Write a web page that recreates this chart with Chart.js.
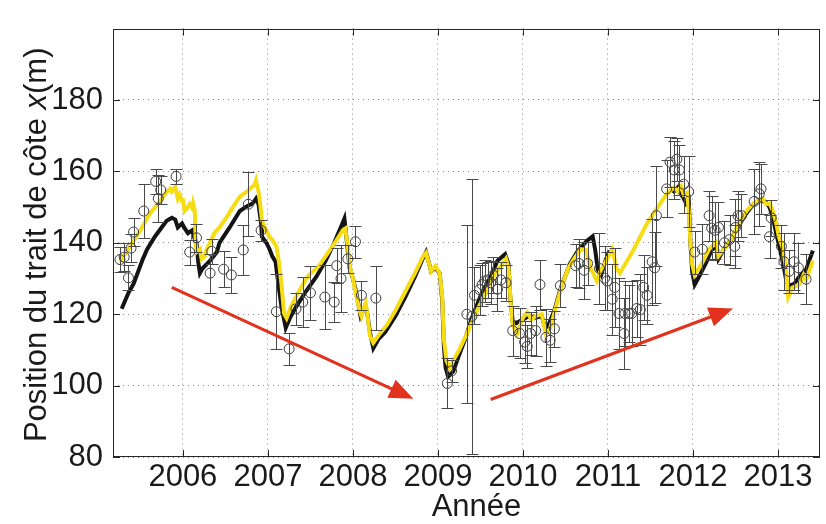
<!DOCTYPE html>
<html>
<head>
<meta charset="utf-8">
<script src="https://cdn.jsdelivr.net/npm/chart.js@4.4.1/dist/chart.umd.min.js"></script>
<style>
html,body{margin:0;padding:0;background:#fff}
canvas{display:block}
</style>
</head>
<body>
<canvas id="shoreChart" width="826" height="524"></canvas>
<script>
// ===== DATA =====
let yearTicks=[2006,2007,2008,2009,2010,2011,2012,2013]
let posTicks=[80,100,120,140,160,180]

// black model line (null = no data)
let blackYears=[2005.28,2005.36,2005.42,2005.53,2005.58,2005.67,2005.75,2005.81,2005.87,2005.91,2005.94,2005.99,2006.02,2006.06,2006.11,2006.13,2006.16,2006.18,2006.20,2006.23,2006.32,2006.40,2006.43,2006.55,2006.67,2006.75,2006.82,2006.86,2006.89,2006.92,2006.93,2006.98,2007.02,2007.05,2007.09,2007.12,2007.16,2007.21,2007.26,2007.33,2007.45,2007.57,2007.68,2007.78,2007.86,2007.90,2007.93,2007.96,2008.00,2008.04,2008.09,2008.12,2008.15,2008.17,2008.20,2008.24,2008.30,2008.38,2008.50,2008.62,2008.73,2008.82,2008.86,2008.92,2008.97,2009.02,2009.05,2009.07,2009.09,2009.12,2009.18,2009.24,2009.32,2009.40,2009.50,2009.62,2009.70,2009.79,2009.83,2009.85,2009.88,2009.92,2010.00,2010.07,2010.15,2010.22,2010.27,2010.30,2010.37,2010.44,2010.55,2010.64,2010.75,2010.82,2010.85,2010.88,2010.92,2010.97,2011.02,2011.40,2011.76,2011.82,2011.86,2011.89,2011.92,2011.95,2011.97,2011.99,2012.02,2012.08,2012.16,2012.22,2012.28,2012.30,2012.37,2012.45,2012.53,2012.62,2012.70,2012.78,2012.85,2012.90,2012.94,2012.98,2013.03,2013.07,2013.10,2013.14,2013.19,2013.25,2013.33,2013.41]
let blackPos=[121.5,126,128.5,135.5,138.2,141.7,144.3,146.2,147,146.5,144.3,145.4,144.1,142.7,143.5,141.7,140.1,134.7,131.5,132.8,135,137.4,140,144.3,148.9,150.2,151,152.4,150.8,145.4,141.7,140.1,138.2,136.3,134.7,129,122,116.2,119,122,126.5,130.5,135,140,144.5,146.8,140,133,130,126,119.5,121,122,120,115,110.5,113,115,119.5,125,130.5,135.5,137.4,132,133,131.5,124,111,105,102.5,104,108,113,119,125,130.5,135,136.8,134,125,118,117.5,118.5,119.5,119,119.5,115.5,117,121,127,134,137.5,140.5,141.8,138,132.5,131,135,137.8,null,154,155.5,153.5,152.5,151,152,140,132,128.3,130.9,134.7,138,139,135.5,138.5,141,144.5,148,150.5,152,151.5,150,147,142.5,137.5,133,129,128,128.5,130.5,132.5,137.8]

// yellow model line
let yellowYears=[2005.26,2005.38,2005.50,2005.61,2005.73,2005.81,2005.85,2005.87,2005.91,2005.94,2005.96,2005.99,2006.00,2006.02,2006.05,2006.08,2006.11,2006.12,2006.14,2006.15,2006.16,2006.20,2006.22,2006.26,2006.28,2006.32,2006.37,2006.43,2006.51,2006.58,2006.67,2006.75,2006.81,2006.84,2006.86,2006.89,2006.91,2006.93,2006.98,2007.02,2007.05,2007.10,2007.13,2007.16,2007.19,2007.22,2007.27,2007.33,2007.39,2007.48,2007.60,2007.70,2007.80,2007.88,2007.91,2007.94,2007.96,2008.00,2008.04,2008.08,2008.10,2008.13,2008.15,2008.17,2008.20,2008.24,2008.30,2008.40,2008.50,2008.62,2008.73,2008.82,2008.86,2008.92,2008.97,2009.02,2009.05,2009.07,2009.10,2009.14,2009.18,2009.25,2009.34,2009.45,2009.55,2009.65,2009.74,2009.80,2009.83,2009.86,2009.88,2009.93,2010.00,2010.05,2010.10,2010.15,2010.22,2010.27,2010.32,2010.44,2010.53,2010.60,2010.68,2010.74,2010.80,2010.87,2010.91,2010.99,2011.05,2011.10,2011.14,2011.30,2011.45,2011.60,2011.70,2011.78,2011.82,2011.86,2011.89,2011.93,2011.95,2011.97,2011.99,2012.02,2012.10,2012.19,2012.27,2012.30,2012.39,2012.47,2012.54,2012.63,2012.71,2012.78,2012.82,2012.86,2012.90,2012.94,2012.98,2013.01,2013.06,2013.09,2013.12,2013.17,2013.25,2013.30,2013.33,2013.36,2013.41]
let yellowPos=[134.7,139,143.5,148.1,151.6,154.3,155.1,154.3,155.6,152.4,153.5,151.6,152.4,148.9,149.7,150.8,149.7,151,148.9,140.1,137.4,138.2,135.5,136.3,138.2,140.1,142.7,144.3,147,149.7,152.9,154.3,155.6,156.1,157.5,154.3,150.8,146.2,143.5,141.7,140.9,139,134.7,128.3,120.2,118.9,122.1,124.8,127.5,130.9,133.5,137,140.5,143.5,144,139,133.5,130,125,121,119.5,122,123,120,114,112,114,117,121,126.5,131.5,136,137.2,132,133.5,131.5,125,113,107,105,107,110,114.5,120.5,125.5,130.5,133.5,135.5,133,122,117,114.5,119,120.5,118.5,119.5,120,114.5,116,126.6,132.8,135.5,138.2,138,132.8,129.3,132,135.5,138.2,132.8,131.5,138,145,150.5,154,155.5,154.5,155.8,153.5,154,149,140,134,131,134,138.2,140.1,136.3,139,141.7,145.4,148.9,151,152.1,152.4,150.8,151,148.9,145.4,141.7,138.2,133.6,124.8,127.5,128.3,131,129.5,131.5,135]

// observations (circles) with error bars
let obsYears=[2005.26,2005.31,2005.36,2005.39,2005.42,2005.54,2005.68,2005.71,2005.74,2005.92,2006.08,2006.16,2006.32,2006.34,2006.48,2006.57,2006.71,2006.77,2006.92,2007.10,2007.25,2007.33,2007.41,2007.50,2007.67,2007.78,2007.81,2007.86,2007.94,2008.03,2008.10,2008.27,2009.11,2009.16,2009.34,2009.40,2009.43,2009.49,2009.52,2009.55,2009.59,2009.62,2009.65,2009.70,2009.74,2009.80,2009.88,2009.96,2010.02,2010.05,2010.09,2010.15,2010.20,2010.27,2010.32,2010.37,2010.44,2010.62,2010.66,2010.72,2010.76,2010.90,2010.96,2010.99,2011.05,2011.08,2011.13,2011.19,2011.20,2011.25,2011.28,2011.34,2011.38,2011.42,2011.46,2011.52,2011.55,2011.57,2011.69,2011.73,2011.78,2011.81,2011.84,2011.89,2011.95,2012.02,2012.11,2012.19,2012.22,2012.26,2012.30,2012.37,2012.43,2012.49,2012.50,2012.53,2012.57,2012.72,2012.78,2012.80,2012.90,2012.92,2013.04,2013.07,2013.13,2013.19,2013.24,2013.33]
let obsPos=[135.3,136,130.2,138.5,143,148.9,157.2,152.4,154.8,158.6,137.4,141.4,131.5,137.6,132.6,131,138,150.8,143.5,120.7,110.3,121.5,123.4,126,124.8,123.4,133.6,130,135.5,140.3,125.3,124.5,100.6,104.1,120,119.4,125.3,126.9,128.3,129.3,129.6,128.8,130.9,127,129.6,128.8,115.4,114.6,112.2,111,114.6,115.4,128.3,113.5,112.7,115.9,128,133.6,134.2,132.3,134.2,132.8,130.1,129.3,124.2,127.5,120.2,114.6,120.2,120.2,120.2,121.6,121.3,127.5,125.3,134.7,133,147.6,155.1,162.6,160.4,163.4,160.4,156.4,154.3,137.4,138.2,147.6,144.1,143.5,144.3,140,140.9,139,144.3,147.6,147.6,151.6,153.7,155.1,141.7,147,139,134.7,132,134.7,133,129.8]
let obsErr=[3.5,4,3.5,4,4,7.5,3.5,6.5,4,2,3.5,4,5.5,3.5,5,5,7,9,3,10.5,4.5,4.5,7,7.5,9,5.5,5,9.5,4,4.5,4,9,7,3,25,38.5,8,7,6,6,5,6,5,6,5,5,7,7,6,6,6,7,7,8,6,5,6,6,7,8,6,10,9,8,10,11,10,10,9,8,9,8,10,9,8,12,10,14,8,7,8,6,7,8,10,6,7,7,9,8,7,6,7,6,8,7,6,9,9,7,6,5,6,8,6,8,7,7]

// trend arrows [year, position]
let arrowFrom=[[2005.87,127.5],[2009.62,96.1]]
let arrowTo=[[2008.71,96.3],[2012.47,121.6]]

const FONT="'Liberation Sans', Arial, sans-serif"
const TXT='#1a1a1a'

function pts(xs,ys){ return xs.map((v,i)=>({x:v,y:ys[i]})) }

// ===== EXTRA DRAWING =====
const extras={
    id:'extras',
    afterDatasetsDraw(chart){
        const {ctx,chartArea:a,scales:{x,y}}=chart
        ctx.save()
        ctx.beginPath(); ctx.rect(a.left,a.top,a.right-a.left,a.bottom-a.top); ctx.clip()
        // error bars
        ctx.strokeStyle='#4a4a4a'; ctx.lineWidth=1
        ctx.beginPath()
        for(let i=0;i<obsYears.length;i++){
            let px=Math.round(x.getPixelForValue(obsYears[i]))+0.5
            let t=Math.round(y.getPixelForValue(obsPos[i]+obsErr[i]))+0.5
            let b=Math.round(y.getPixelForValue(obsPos[i]-obsErr[i]))+0.5
            ctx.moveTo(px,t); ctx.lineTo(px,b)
            ctx.moveTo(px-6,t); ctx.lineTo(px+6,t)
            ctx.moveTo(px-6,b); ctx.lineTo(px+6,b)
        }
        ctx.stroke()
        // arrows
        ctx.strokeStyle='#e2321d'; ctx.fillStyle='#e2321d'; ctx.lineWidth=3
        for(let k=0;k<arrowFrom.length;k++){
            let x0=x.getPixelForValue(arrowFrom[k][0]), y0=y.getPixelForValue(arrowFrom[k][1])
            let x1=x.getPixelForValue(arrowTo[k][0]), y1=y.getPixelForValue(arrowTo[k][1])
            let ang=Math.atan2(y1-y0,x1-x0), hl=24, hw=10
            let bx=x1-hl*Math.cos(ang), by=y1-hl*Math.sin(ang)
            ctx.beginPath(); ctx.moveTo(x0,y0); ctx.lineTo(bx+2*Math.cos(ang),by+2*Math.sin(ang)); ctx.stroke()
            ctx.beginPath()
            ctx.moveTo(x1,y1)
            ctx.lineTo(bx+hw*Math.sin(ang),by-hw*Math.cos(ang))
            ctx.lineTo(bx-hw*Math.sin(ang),by+hw*Math.cos(ang))
            ctx.closePath(); ctx.fill()
        }
        ctx.restore()
    },
    afterDraw(chart){
        const {ctx,chartArea:a,scales:{x,y}}=chart
        ctx.save()
        // box + inward ticks
        ctx.strokeStyle='#262626'; ctx.lineWidth=1
        ctx.strokeRect(Math.round(a.left)+0.5,Math.round(a.top)+0.5,Math.round(a.right-a.left)-1,Math.round(a.bottom-a.top)-1)
        ctx.beginPath()
        yearTicks.forEach(v=>{
            let px=Math.round(x.getPixelForValue(v))+0.5
            ctx.moveTo(px,a.bottom); ctx.lineTo(px,a.bottom-7)
            ctx.moveTo(px,a.top); ctx.lineTo(px,a.top+7)
        })
        posTicks.forEach(v=>{
            let py=Math.round(y.getPixelForValue(v))+0.5
            ctx.moveTo(a.left,py); ctx.lineTo(a.left+7,py)
            ctx.moveTo(a.right,py); ctx.lineTo(a.right-7,py)
        })
        ctx.stroke()
        // y title with italic x
        let parts=[['Position du trait de côte ','normal'],['x','italic'],['(m)','normal']]
        let size=31
        ctx.fillStyle=TXT; ctx.textBaseline='middle'; ctx.textAlign='left'
        let total=0
        parts.forEach(p=>{ ctx.font=p[1]+' '+size+'px '+FONT; total+=ctx.measureText(p[0]).width })
        ctx.translate(37,(a.top+a.bottom)/2+2)
        ctx.rotate(-Math.PI/2)
        let cx=-total/2
        parts.forEach(p=>{ ctx.font=p[1]+' '+size+'px '+FONT; ctx.fillText(p[0],cx,0); cx+=ctx.measureText(p[0]).width })
        ctx.restore()
        // x title
        ctx.save()
        ctx.fillStyle=TXT; ctx.font='31px '+FONT; ctx.textAlign='center'; ctx.textBaseline='middle'
        ctx.fillText('Année',(a.left+a.right)/2+10,507)
        ctx.restore()
    }
}

new Chart(document.getElementById('shoreChart'),{
    type:'line',
    data:{
        datasets:[
            {type:'scatter',data:pts(obsYears,obsPos),pointStyle:'circle',pointRadius:5,pointHoverRadius:5,
             pointBorderColor:'#3a3a3a',pointBackgroundColor:'rgba(0,0,0,0)',pointBorderWidth:1,showLine:false,order:0},
            {data:pts(yellowYears,yellowPos),borderColor:'#f6dc12',borderWidth:4,pointRadius:0,tension:0,spanGaps:false,order:1},
            {data:pts(blackYears,blackPos),borderColor:'#141414',borderWidth:4,pointRadius:0,tension:0,spanGaps:false,order:2}
        ]
    },
    options:{
        responsive:false,
        animation:false,
        parsing:false,
        layout:{padding:{top:9,right:2,left:0,bottom:0}},
        plugins:{legend:{display:false},tooltip:{enabled:false}},
        scales:{
            x:{
                type:'linear',min:2005.178,max:2013.494,
                afterBuildTicks:s=>{ s.ticks=yearTicks.map(v=>({value:v})) },
                afterFit:s=>{ s.height=67 },
                grid:{color:'#8c8c8c',lineWidth:1,drawTicks:false},
                border:{display:false,dash:[1,4]},
                ticks:{color:TXT,font:{family:FONT,size:31},padding:2,maxRotation:0,autoSkip:false,callback:v=>String(v)}
            },
            y:{
                type:'linear',min:80,max:200,
                afterBuildTicks:s=>{ s.ticks=posTicks.map(v=>({value:v})) },
                afterFit:s=>{ s.width=113 },
                grid:{color:'#8c8c8c',lineWidth:1,drawTicks:false},
                border:{display:false,dash:[1,4]},
                ticks:{color:TXT,font:{family:FONT,size:31},padding:10,callback:v=>String(v)}
            }
        }
    },
    plugins:[extras]
})
</script>
</body>
</html>
